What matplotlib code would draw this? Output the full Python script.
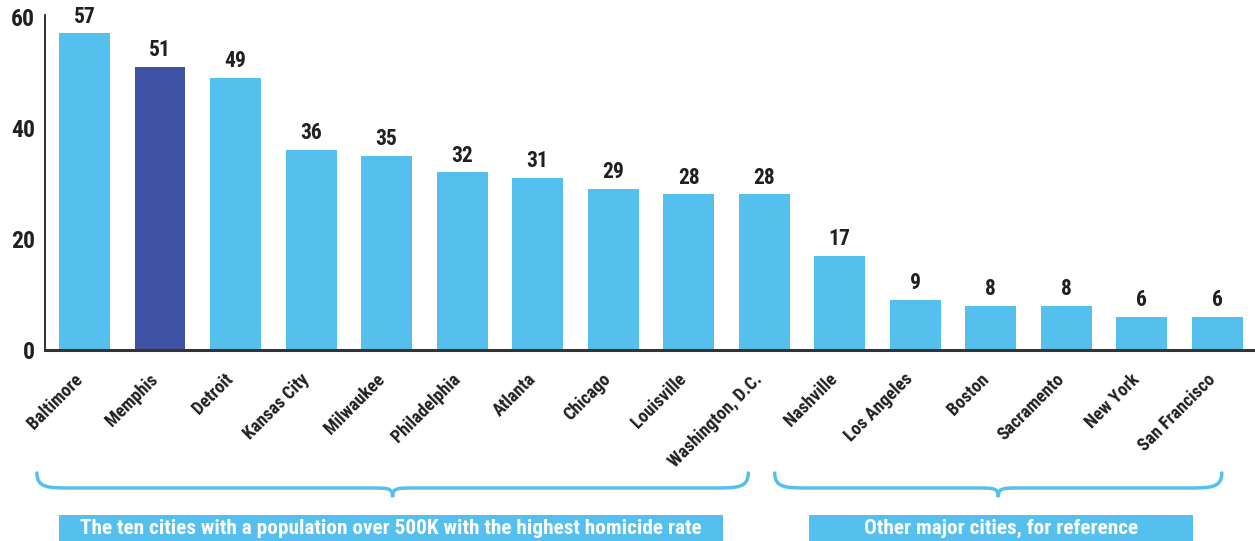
import matplotlib
matplotlib.use("Agg")
import matplotlib.pyplot as plt
from matplotlib.path import Path
from matplotlib.patches import PathPatch, Rectangle
from matplotlib.transforms import blended_transform_factory, ScaledTranslation

plt.rcParams['font.family'] = ['Roboto Condensed', 'DejaVu Sans']

cities = ["Baltimore", "Memphis", "Detroit", "Kansas City", "Milwaukee", "Philadelphia",
          "Atlanta", "Chicago", "Louisville", "Washington, D.C.", "Nashville", "Los Angeles",
          "Boston", "Sacramento", "New York", "San Francisco"]
rates = [57, 51, 49, 36, 35, 32, 31, 29, 28, 28, 17, 9, 8, 8, 6, 6]
highlight = "Memphis"

group_labels = ["The ten cities with a population over 500K with the highest homicide rate",
                "Other major cities, for reference"]
# brace spans (in bar-index units) and label-box spans
brace_spans = [(-0.63, 8.79), (9.14, 15.06)]
box_spans = [(-0.34, 8.46), (9.60, 14.68)]

light = "#55C0EE"
dark = "#3F51A3"
ink = "#231F20"

fig = plt.figure(figsize=(12.55, 5.41), dpi=100)
ax = fig.add_axes([45 / 1255, 191 / 541, 1 - 45 / 1255, 335 / 541])

x = range(len(cities))
colors = [dark if c == highlight else light for c in cities]
bars = ax.bar(x, rates, width=0.675, color=colors, zorder=2)

for b, v in zip(bars, rates):
    ax.annotate(str(v), (b.get_x() + b.get_width() / 2, v), xytext=(0, 4),
                textcoords="offset points", ha="center", va="bottom",
                fontsize=15.5, fontweight="bold", color=ink)

ax.set_xlim(-0.523, 15.5)
ax.set_ylim(0, 60.3)
ax.set_yticks([0, 20, 40, 60])
ax.tick_params(axis="y", length=0, pad=7, labelsize=17, labelcolor=ink)
for t in ax.get_yticklabels():
    t.set_fontweight("bold")

ax.set_xticks(list(x))
ax.set_xticklabels(cities, rotation=45, ha="right", rotation_mode="anchor",
                   fontsize=13, fontweight="bold", color=ink)
ax.tick_params(axis="x", length=0, pad=16)
shift = ScaledTranslation(-0.11, 0.02, fig.dpi_scale_trans)
for t in ax.get_xticklabels():
    t.set_transform(t.get_transform() + shift)

for s in ["top", "right"]:
    ax.spines[s].set_visible(False)
ax.spines["left"].set_color(ink)
ax.spines["left"].set_linewidth(1.3)
ax.spines["bottom"].set_color("#333333")
ax.spines["bottom"].set_linewidth(2.2)

# braces and group labels
tr = blended_transform_factory(ax.transData, fig.transFigure)
y_top, y_mid, y_tip = 0.1257, 0.098, 0.081

for (x0, x1) in brace_spans:
    xm = (x0 + x1) / 2
    verts = [(x0, y_top), (x0, y_mid), (x0 + 0.15, y_mid), (x0 + 0.45, y_mid),
             (xm - 0.3, y_mid),
             (xm - 0.05, y_mid), (xm, y_mid), (xm, y_tip),
             (xm, y_mid), (xm + 0.05, y_mid), (xm + 0.3, y_mid),
             (x1 - 0.45, y_mid),
             (x1 - 0.15, y_mid), (x1, y_mid), (x1, y_top)]
    codes = [Path.MOVETO, Path.CURVE4, Path.CURVE4, Path.CURVE4,
             Path.LINETO,
             Path.CURVE4, Path.CURVE4, Path.CURVE4,
             Path.CURVE4, Path.CURVE4, Path.CURVE4,
             Path.LINETO,
             Path.CURVE4, Path.CURVE4, Path.CURVE4]
    ax.add_patch(PathPatch(Path(verts, codes), transform=tr, fill=False,
                           edgecolor=light, lw=2.5, clip_on=False, capstyle="round"))

for (x0, x1), label in zip(box_spans, group_labels):
    ax.add_patch(Rectangle((x0, 0), x1 - x0, 0.048, transform=tr, color=light,
                           clip_on=False, lw=0))
    ax.text((x0 + x1) / 2, 0.024, label, transform=tr, ha="center", va="center",
            color="white", fontsize=15.3, fontweight="bold")

plt.savefig("out.png", dpi=100)
